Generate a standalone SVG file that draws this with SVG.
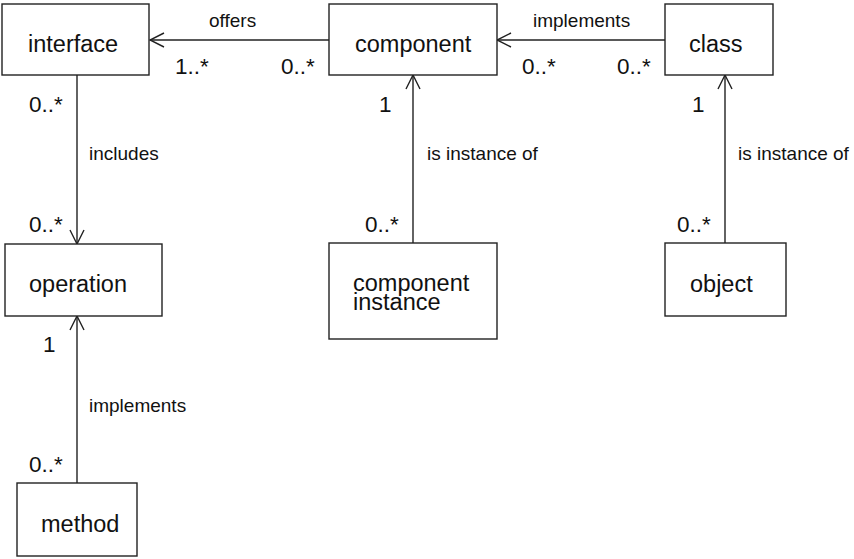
<svg xmlns="http://www.w3.org/2000/svg" width="854" height="559" viewBox="0 0 854 559">
  <style>
    .box { fill: #ffffff; stroke: #222222; stroke-width: 1.4; }
    .label { font-family: "Liberation Sans", Arial, sans-serif; font-size: 23.5px; fill: #111111; }
    .edge { fill: none; stroke: #222222; stroke-width: 1.4; marker-end: url(#open-arrow); }
    .role { font-family: "Liberation Sans", Arial, sans-serif; font-size: 19px; fill: #111111; }
    .mult { font-family: "Liberation Sans", Arial, sans-serif; font-size: 22.5px; fill: #111111; }
  </style>
  <defs>
    <marker id="open-arrow" markerUnits="userSpaceOnUse" markerWidth="16" markerHeight="16" viewBox="0 0 16 16" refX="15" refY="8" orient="auto">
      <path d="M1,1 L15,8 L1,15" fill="none" stroke="#222222" stroke-width="1.4"/>
    </marker>
  </defs>
  <rect width="854" height="559" fill="#ffffff"/>

  <!-- associations -->
  <g id="connectors">
    <line class="edge" x1="329" y1="40" x2="150" y2="40"/>
    <line class="edge" x1="665" y1="40" x2="497" y2="40"/>
    <line class="edge" x1="77" y1="75" x2="77" y2="244"/>
    <line class="edge" x1="413" y1="243" x2="413" y2="75"/>
    <line class="edge" x1="725" y1="243" x2="725" y2="75"/>
    <line class="edge" x1="77" y1="483" x2="77" y2="316"/>

    <text class="role" x="209" y="27">offers</text>
    <text class="role" x="533" y="27">implements</text>
    <text class="role" x="89" y="160">includes</text>
    <text class="role" x="427" y="160">is instance of</text>
    <text class="role" x="738" y="160">is instance of</text>
    <text class="role" x="89" y="412">implements</text>

    <text class="mult" x="175" y="74">1..*</text>
    <text class="mult" x="281" y="74">0..*</text>
    <text class="mult" x="522" y="74">0..*</text>
    <text class="mult" x="617" y="74">0..*</text>
    <text class="mult" x="29" y="112">0..*</text>
    <text class="mult" x="29" y="232">0..*</text>
    <text class="mult" x="379" y="112">1</text>
    <text class="mult" x="365" y="232">0..*</text>
    <text class="mult" x="692" y="112">1</text>
    <text class="mult" x="677" y="232">0..*</text>
    <text class="mult" x="43" y="352">1</text>
    <text class="mult" x="29" y="472">0..*</text>
  </g>

  <g id="interface">
    <rect class="box" x="2" y="4" width="147" height="71"/>
    <text class="label" x="28" y="52">interface</text>
  </g>
  <g id="component">
    <rect class="box" x="329" y="4" width="168" height="71"/>
    <text class="label" x="355" y="52">component</text>
  </g>
  <g id="class">
    <rect class="box" x="665" y="4" width="108" height="71"/>
    <text class="label" x="689" y="52">class</text>
  </g>
  <g id="operation">
    <rect class="box" x="5" y="244" width="157" height="72"/>
    <text class="label" x="29" y="292">operation</text>
  </g>
  <g id="component-instance">
    <rect class="box" x="329" y="243" width="168" height="96"/>
    <text class="label" x="353" y="291">component</text>
    <text class="label" x="353" y="310">instance</text>
  </g>
  <g id="object">
    <rect class="box" x="665" y="243" width="121" height="73"/>
    <text class="label" x="690" y="292">object</text>
  </g>
  <g id="method">
    <rect class="box" x="17" y="483" width="120" height="73"/>
    <text class="label" x="41" y="532">method</text>
  </g>
</svg>
